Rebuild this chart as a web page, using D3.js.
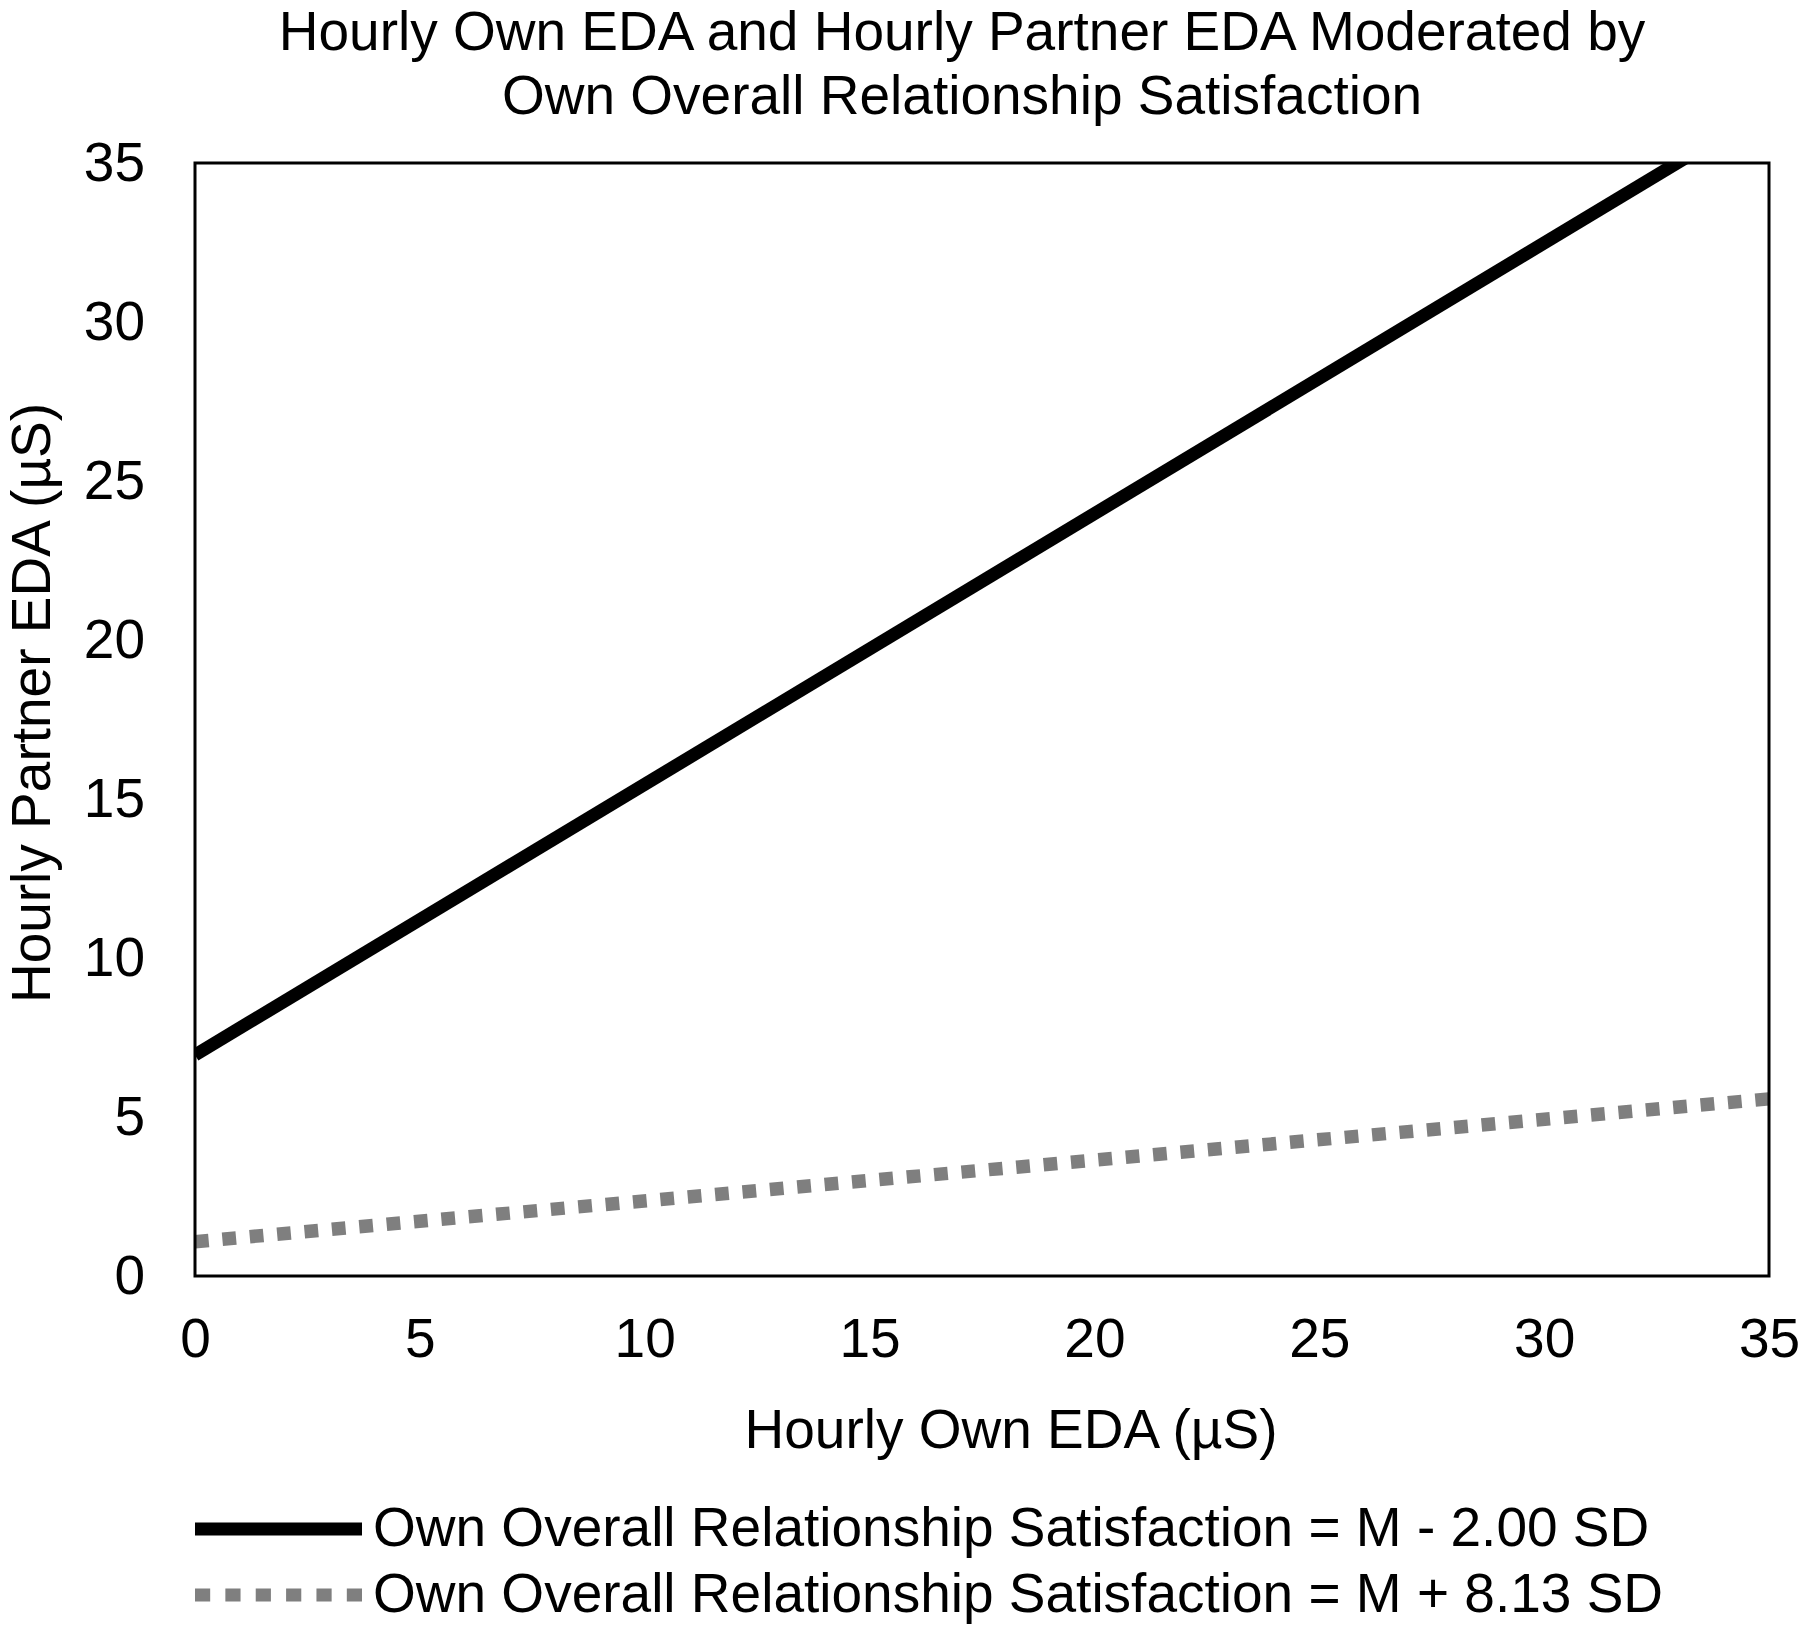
<!DOCTYPE html>
<html>
<head>
<meta charset="utf-8">
<script src="https://cdn.jsdelivr.net/npm/d3@7"></script>
<style>
  body { margin: 0; background: #fff; }
  svg { display: block; font-family: "Liberation Sans", Arial, sans-serif; }
</style>
</head>
<body>
<div id="chart"></div>
<script>
// values
var xValues = [0, 35];
var lowSatValues = [6.95, 36.74];   // M - 2.00 SD
var highSatValues = [1.08, 5.57];   // M + 8.13 SD
var xTicks = [0, 5, 10, 15, 20, 25, 30, 35];
var yTicks = [0, 5, 10, 15, 20, 25, 30, 35];
var titleLines = ["Hourly Own EDA and Hourly Partner EDA Moderated by", "Own Overall Relationship Satisfaction"];
var seriesNames = ["Own Overall Relationship Satisfaction = M - 2.00 SD", "Own Overall Relationship Satisfaction = M + 8.13 SD"];

var W = 1800, H = 1626;
var margin = {top: 163, right: 31, bottom: 350, left: 195},
    width = W - margin.left - margin.right,
    height = H - margin.top - margin.bottom;

var svg = d3.select("#chart")
    .append("svg")
    .attr("width", W)
    .attr("height", H);

svg.append("rect").attr("width", W).attr("height", H).style("fill", "#fff");

// title
svg.selectAll(".title")
    .data(titleLines)
    .enter().append("text")
    .attr("class", "title")
    .attr("x", 962)
    .attr("y", function(d, i) { return 50 + i * 64; })
    .style("text-anchor", "middle")
    .style("font-size", "55px")
    .text(function(d) { return d; });

var g = svg.append("g")
    .attr("transform", "translate(" + margin.left + "," + margin.top + ")");

var x = d3.scaleLinear().domain([0, 35]).range([0, width]);
var y = d3.scaleLinear().domain([0, 35]).range([height, 0]);

// axes
var xAxis = g.append("g")
    .attr("transform", "translate(0," + height + ")")
    .call(d3.axisBottom(x).tickValues(xTicks).tickSize(0).tickPadding(42));
var yAxis = g.append("g")
    .call(d3.axisLeft(y).tickValues(yTicks).tickSize(0).tickPadding(50));

[xAxis, yAxis].forEach(function(a) {
    a.select(".domain").remove();
    a.selectAll("text")
        .style("font-size", "55px")
        .style("font-family", "'Liberation Sans', Arial, sans-serif")
        .style("fill", "#000");
});

g.append("clipPath").attr("id", "plotclip")
    .append("rect").attr("width", width).attr("height", height);

var line = d3.line()
    .x(function(d) { return x(d[0]); })
    .y(function(d) { return y(d[1]); });

var lowData = xValues.map(function(v, i) { return [v, lowSatValues[i]]; });
var highData = xValues.map(function(v, i) { return [v, highSatValues[i]]; });

g.append("path")
    .datum(lowData)
    .attr("clip-path", "url(#plotclip)")
    .attr("d", line)
    .style("fill", "none")
    .style("stroke", "#000")
    .style("stroke-width", 13);

var dotted = g.append("path")
    .datum(highData)
    .attr("d", line)
    .style("fill", "none")
    .style("stroke", "#7f7f7f")
    .style("stroke-width", 13.5);

// square dots, stretched a touch so the line ends on a dot
var len = dotted.node().getTotalLength();
var nDots = Math.round((len / 13.85 + 1) / 2);
var dotLen = len / (2 * nDots - 1);
dotted.style("stroke-dasharray", dotLen + "," + dotLen);

// plot frame
g.append("rect")
    .attr("width", width)
    .attr("height", height)
    .style("fill", "none")
    .style("stroke", "#000")
    .style("stroke-width", 3);

// axis titles
svg.append("text")
    .attr("x", 1011)
    .attr("y", 1448)
    .style("text-anchor", "middle")
    .style("font-size", "55px")
    .text("Hourly Own EDA (µS)");

svg.append("text")
    .attr("transform", "translate(50," + 703 + ") rotate(-90)")
    .style("text-anchor", "middle")
    .style("font-size", "55px")
    .text("Hourly Partner EDA (µS)");

// legend
var legend = svg.selectAll(".legend")
    .data(seriesNames)
    .enter().append("g")
    .attr("class", "legend")
    .attr("transform", function(d, i) { return "translate(195," + (1529 + i * 66) + ")"; });

legend.append("line")
    .attr("x1", 0)
    .attr("x2", 167)
    .style("stroke", function(d, i) { return i === 0 ? "#000" : "#7f7f7f"; })
    .style("stroke-width", 13)
    .style("stroke-dasharray", function(d, i) { return i === 0 ? null : (167 / 11) + "," + (167 / 11); });

legend.append("text")
    .attr("x", 178)
    .attr("y", 17)
    .style("font-size", "55px")
    .text(function(d) { return d; });
</script>
</body>
</html>
